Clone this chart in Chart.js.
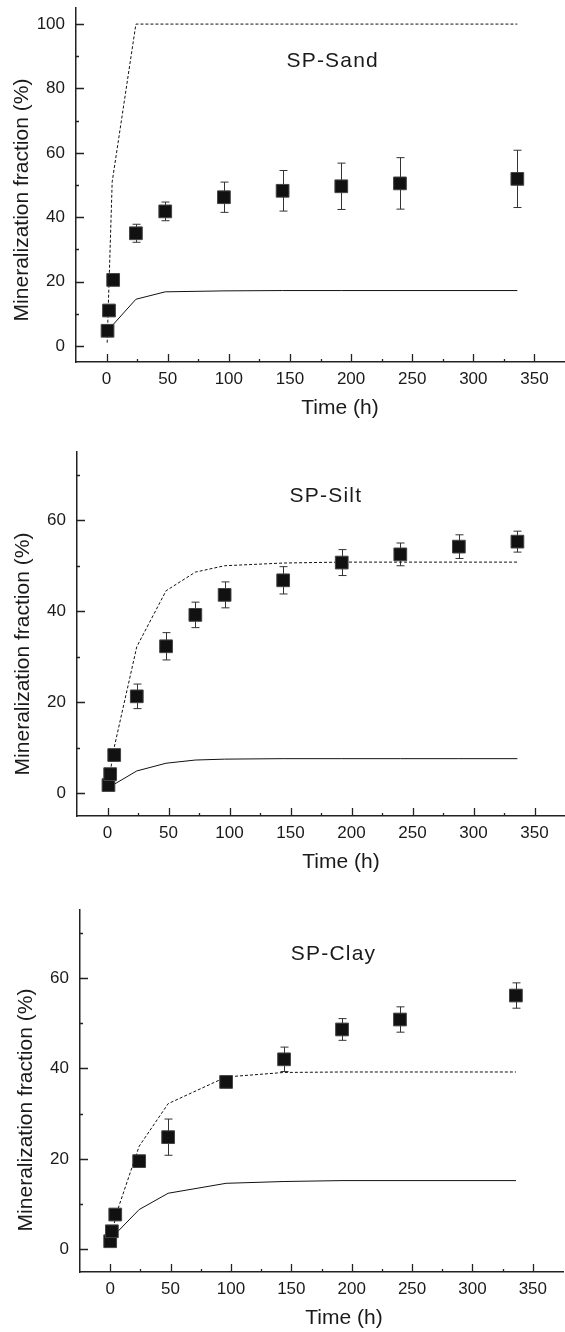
<!DOCTYPE html>
<html>
<head>
<meta charset="utf-8">
<script src="https://cdn.jsdelivr.net/npm/chart.js@4.4.1/dist/chart.umd.min.js"></script>
<style>
  body { margin: 0; background: #fff; }
  canvas { position: absolute; left: 0; }
</style>
</head>
<body>
<canvas id="sand" width="565" height="425" style="top:0px"></canvas>
<canvas id="silt" width="565" height="455" style="top:425px"></canvas>
<canvas id="clay" width="565" height="452" style="top:880px"></canvas>
<script>
// shared time axis (h)
var xTicks = [0, 50, 100, 150, 200, 250, 300, 350];

// SP-Sand
var sandTime = [0.8, 2, 5.4, 24, 48, 96, 144, 192, 240, 336];
var sandMean = [4.7, 11.0, 20.5, 35.0, 41.8, 46.2, 48.2, 49.6, 50.5, 51.9];
var sandErr = [0, 0, 0, 2.8, 2.9, 4.7, 6.3, 7.2, 8.0, 8.9];
var sandModelTime = [0.5, 4.6, 24, 48, 96, 144, 192, 240, 336];
var sandDashed = [1, 51, 100, 100, 100, 100, 100, 100, 100];
var sandSolid = [3, 6.3, 14.5, 16.8, 17.1, 17.2, 17.2, 17.2, 17.2];
var sandYTicks = [0, 20, 40, 60, 80, 100];

// SP-Silt
var siltTime = [0.8, 2.2, 5.5, 24, 48, 72, 96, 144, 192, 240, 288, 336];
var siltMean = [1.8, 4.2, 8.4, 21.3, 32.3, 39.2, 43.6, 46.8, 50.7, 52.5, 54.2, 55.3];
var siltErr = [0, 0, 0, 2.7, 3.0, 2.8, 2.85, 3.0, 2.85, 2.5, 2.6, 2.3];
var siltModelTime = [0.5, 5, 24, 48, 72, 96, 144, 192, 240, 288, 336];
var siltDashed = [1.5, 9.5, 32.2, 44.5, 48.6, 50.0, 50.6, 50.8, 50.8, 50.8, 50.8];
var siltSolid = [1.0, 1.9, 4.9, 6.6, 7.3, 7.5, 7.6, 7.6, 7.6, 7.6, 7.6];
var siltYTicks = [0, 20, 40, 60];

// SP-Clay
var clayTime = [0, 1.4, 4.2, 24, 48, 96, 144, 192, 240, 336];
var clayMean = [1.8, 4.0, 7.7, 19.5, 24.8, 37.0, 42.0, 48.6, 50.8, 56.1];
var clayErr = [0, 0, 0, 1.0, 4.0, 0.8, 2.7, 2.4, 2.8, 2.8];
var clayModelTime = [0, 5, 24, 48, 96, 144, 192, 240, 336];
var clayDashed = [1.5, 7.8, 22.8, 32.2, 38.1, 39.1, 39.2, 39.2, 39.2];
var claySolid = [2, 3.6, 8.8, 12.4, 14.6, 15.0, 15.2, 15.2, 15.2];
var clayYTicks = [0, 20, 40, 60];

Chart.defaults.font.family = "'Liberation Sans', Arial, sans-serif";
Chart.defaults.color = '#1a1a1a';

function pts(xs, ys) {
  return xs.map(function(x, i) { return { x: x, y: ys[i] }; });
}

// error bars, inward ticks, axis titles and the panel name
var decor = {
  id: 'decor',
  beforeDatasetsDraw: function(chart) {
    var ctx = chart.ctx, xs = chart.scales.x, ys = chart.scales.y;
    chart.data.datasets.forEach(function(ds) {
      if (!ds.errors) return;
      ctx.save();
      ctx.strokeStyle = '#333';
      ctx.lineWidth = 1;
      ds.data.forEach(function(p, i) {
        var e = ds.errors[i];
        if (!e) return;
        var px = Math.round(xs.getPixelForValue(p.x)) + 0.5;
        var top = ys.getPixelForValue(p.y + e), bot = ys.getPixelForValue(p.y - e);
        ctx.beginPath();
        ctx.moveTo(px, top); ctx.lineTo(px, bot);
        ctx.moveTo(px - 4, top); ctx.lineTo(px + 4, top);
        ctx.moveTo(px - 4, bot); ctx.lineTo(px + 4, bot);
        ctx.stroke();
      });
      ctx.restore();
    });
  },
  afterDraw: function(chart, args, o) {
    var ctx = chart.ctx, ca = chart.chartArea, xs = chart.scales.x, ys = chart.scales.y;
    ctx.save();
    ctx.strokeStyle = '#222';
    ctx.lineWidth = 1.3;
    ctx.beginPath();
    xTicks.forEach(function(v) {
      var px = Math.round(xs.getPixelForValue(v)) + 0.5;
      ctx.moveTo(px, ca.bottom); ctx.lineTo(px, ca.bottom - 8);
      var m = Math.round(xs.getPixelForValue(v + 25)) + 0.5;
      if (m < ca.right - 2) { ctx.moveTo(m, ca.bottom); ctx.lineTo(m, ca.bottom - 3); }
    });
    o.yTicks.forEach(function(v) {
      var py = Math.round(ys.getPixelForValue(v)) + 0.5;
      ctx.moveTo(ca.left, py); ctx.lineTo(ca.left + 8, py);
      var m = Math.round(ys.getPixelForValue(v + 10)) + 0.5;
      if (m > ca.top + 2) { ctx.moveTo(ca.left, m); ctx.lineTo(ca.left + 3, m); }
    });
    ctx.stroke();

    ctx.fillStyle = '#1a1a1a';
    ctx.font = "21px 'Liberation Sans', Arial, sans-serif";
    ctx.textAlign = 'center';
    ctx.textBaseline = 'middle';
    ctx.fillText('Time (h)', ca.left + 264, ca.bottom + 46);

    ctx.save();
    ctx.translate(ca.left - 54, ca.bottom - 162);
    ctx.rotate(-Math.PI / 2);
    ctx.fillText('Mineralization fraction (%)', 0, 0);
    ctx.restore();

    ctx.letterSpacing = '1.2px';
    ctx.fillText(o.label, xs.getPixelForValue(o.labelAt[0]), ys.getPixelForValue(o.labelAt[1]));
    ctx.restore();
  }
};

function makePanel(id, p) {
  return new Chart(document.getElementById(id), {
    type: 'scatter',
    data: {
      datasets: [
        {
          data: pts(p.time, p.mean),
          errors: p.err,
          pointStyle: 'rect',
          pointRadius: 9,
          pointHoverRadius: 9,
          backgroundColor: '#111',
          borderColor: '#444',
          borderWidth: 1
        },
        {
          data: pts(p.modelTime, p.dashed),
          showLine: true,
          borderColor: '#111',
          borderWidth: 1,
          borderDash: [3, 2],
          pointRadius: 0,
          tension: 0
        },
        {
          data: pts(p.modelTime, p.solid),
          showLine: true,
          borderColor: '#111',
          borderWidth: 1,
          pointRadius: 0,
          tension: 0
        }
      ]
    },
    options: {
      responsive: false,
      animation: false,
      layout: { autoPadding: false, padding: { top: p.top, right: p.right, left: 0, bottom: 0 } },
      plugins: {
        legend: { display: false },
        tooltip: { enabled: false },
        decor: { label: p.label, labelAt: p.labelAt, yTicks: p.yTicks }
      },
      scales: {
        x: {
          type: 'linear',
          min: -25,
          max: 375,
          grid: { display: false, drawTicks: false },
          border: { display: true, color: '#222', width: 1.5 },
          ticks: { font: { size: 17 }, padding: 7, maxRotation: 0, autoSkip: false },
          afterBuildTicks: function(s) { s.ticks = xTicks.map(function(v) { return { value: v }; }); },
          afterFit: function(s) {
            s.height = p.height - p.bottom;
            s.paddingLeft = 0; s.paddingRight = 0;
          }
        },
        y: {
          type: 'linear',
          min: p.yMin,
          max: p.yMax,
          grid: { display: false, drawTicks: false },
          border: { display: true, color: '#222', width: 1.5 },
          ticks: { font: { size: 17 }, padding: 11 },
          afterBuildTicks: function(s) { s.ticks = p.yTicks.map(function(v) { return { value: v }; }); },
          afterFit: function(s) {
            s.width = p.left;
            s.paddingTop = 0; s.paddingBottom = 0;
          }
        }
      }
    },
    plugins: [decor]
  });
}

makePanel('sand', {
  label: 'SP-Sand', labelAt: [185, 88.5],
  time: sandTime, mean: sandMean, err: sandErr,
  modelTime: sandModelTime, dashed: sandDashed, solid: sandSolid,
  yMin: -5, yMax: 105, yTicks: sandYTicks,
  height: 425, top: 8, bottom: 362, left: 76, right: 0
});

makePanel('silt', {
  label: 'SP-Silt', labelAt: [179, 65.2],
  time: siltTime, mean: siltMean, err: siltErr,
  modelTime: siltModelTime, dashed: siltDashed, solid: siltSolid,
  yMin: -5, yMax: 75, yTicks: siltYTicks,
  height: 455, top: 27, bottom: 391, left: 77, right: 0
});

makePanel('clay', {
  label: 'SP-Clay', labelAt: [185, 65.2],
  time: clayTime, mean: clayMean, err: clayErr,
  modelTime: clayModelTime, dashed: clayDashed, solid: claySolid,
  yMin: -5, yMax: 75, yTicks: clayYTicks,
  height: 452, top: 30, bottom: 392, left: 80, right: 2
});
</script>
</body>
</html>
